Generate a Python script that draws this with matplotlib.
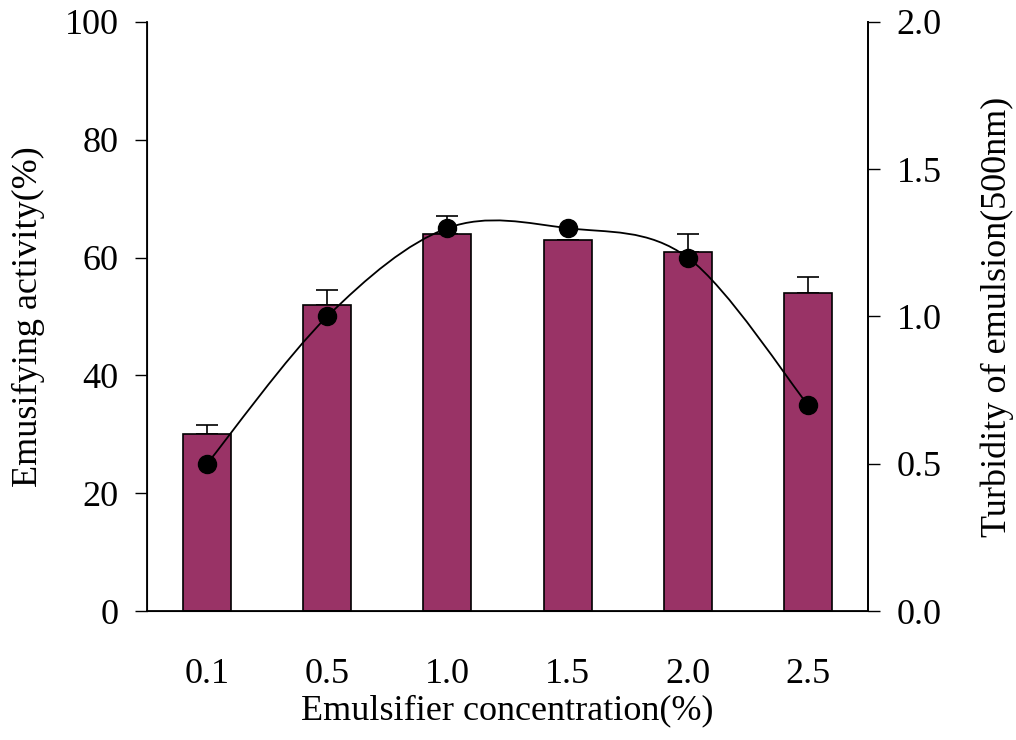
import numpy as np
import matplotlib
matplotlib.use("Agg")
import matplotlib.pyplot as plt
from matplotlib.path import Path
from matplotlib.patches import PathPatch

plt.rcParams['font.family'] = ['Liberation Serif', 'DejaVu Serif']

# ── Data ─────────────────────────────────────────────────────────────────────
concentrations = ["0.1", "0.5", "1.0", "1.5", "2.0", "2.5"]
activity       = [30, 52, 64, 63, 61, 54]        # left axis, bars
activity_err   = [1.5, 2.5, 3.0, 0.0, 3.0, 2.7]  # upper error only
turbidity      = [0.50, 1.00, 1.30, 1.30, 1.20, 0.70]  # right axis, dots

BAR_COLOR = "#993366"
FS = 26

fig = plt.figure(figsize=(10.16, 7.40), dpi=100)
ax = fig.add_axes([0.1447, 0.1743, 0.7096, 0.7960])

x = np.arange(len(concentrations))
ax.bar(x, activity, width=0.4, color=BAR_COLOR, edgecolor="black", linewidth=1.2, zorder=2)
ax.errorbar(x, activity, yerr=[np.zeros(len(x)), activity_err], fmt="none",
            ecolor="black", elinewidth=1.2, capsize=8, capthick=1.2, zorder=1)

ax.set_xlim(-0.5, len(x) - 0.5)
ax.set_ylim(0, 100)
ax.set_yticks(range(0, 101, 20))
ax.set_xticks(x)
ax.set_xticklabels(concentrations)
ax.tick_params(axis="x", length=0, pad=34, labelsize=FS)
ax.tick_params(axis="y", direction="out", length=8.5, width=1, labelsize=FS, pad=12)
ax.spines["top"].set_visible(False)
for s in ("left", "bottom", "right"):
    ax.spines[s].set_linewidth(1.3)
ax.set_xlabel("Emulsifier concentration(%)", fontsize=FS, labelpad=2)
ax.set_ylabel("Emusifying activity(%)", fontsize=FS, labelpad=14)

ax2 = ax.twinx()
ax2.set_ylim(0, 2.0)
ax2.set_yticks(np.arange(0, 2.01, 0.5))
ax2.set_yticklabels([f"{v:.1f}" for v in np.arange(0, 2.01, 0.5)])
ax2.tick_params(axis="y", direction="out", length=8.5, width=1, labelsize=FS, pad=12)
ax2.spines["top"].set_visible(False)
ax2.spines["right"].set_linewidth(1.3)
ax2.set_ylabel("Turbidity of emulsion(500nm)", fontsize=FS, labelpad=28)

# smoothed line (Catmull-Rom style Bezier through the points)
pts = np.column_stack([x, turbidity]).astype(float)
verts = [tuple(pts[0])]
codes = [Path.MOVETO]
n = len(pts)
for i in range(n - 1):
    p0 = pts[max(i - 1, 0)]
    p1 = pts[i]
    p2 = pts[i + 1]
    p3 = pts[min(i + 2, n - 1)]
    c1 = p1 + (p2 - p0) / 6.0
    c2 = p2 - (p3 - p1) / 6.0
    verts += [tuple(c1), tuple(c2), tuple(p2)]
    codes += [Path.CURVE4] * 3
ax2.add_patch(PathPatch(Path(verts, codes), facecolor="none", edgecolor="black", lw=1.3, zorder=3))
ax2.plot(x, turbidity, "o", color="black", markersize=13, zorder=4)

fig.savefig("out.png", dpi=100)
